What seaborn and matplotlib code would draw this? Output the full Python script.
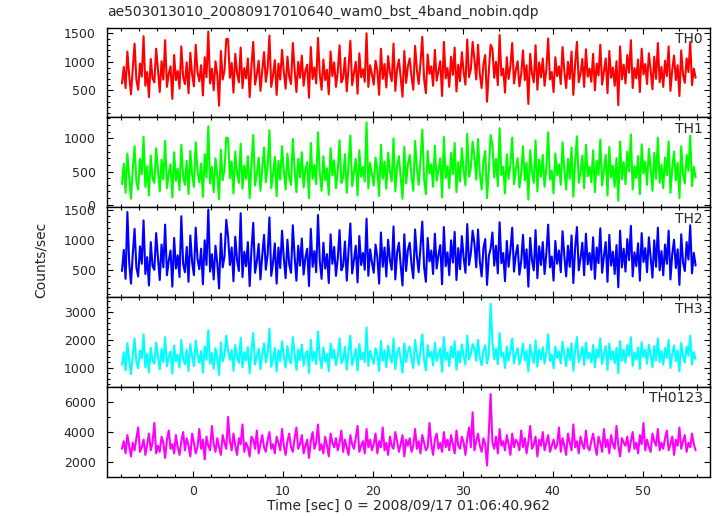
import matplotlib
matplotlib.use('Agg')
import matplotlib.pyplot as plt
from matplotlib.ticker import MultipleLocator
import seaborn as sns
import numpy as np
import pandas as pd

# light curve, 0.2 s bins starting at -8 s
t_start = -8.0
bin_sec = 0.2

th0 = [620, 910, 540, 1180, 760, 430, 880, 1320, 690, 510, 970, 740, 1450, 580, 820, 380, 1050, 710, 640, 1230,
       860, 470, 1010, 690, 1380, 560, 790, 920, 350, 1120, 680, 840, 530, 1270, 740, 610, 990, 450, 1160, 780,
       570, 1300, 820, 660, 940, 410, 1080, 730, 1530, 620, 880, 500, 1010, 770, 230, 1190, 690, 850, 1400, 1400,
       720, 980, 460, 1140, 800, 640, 1250, 540, 890, 710, 1060, 380, 930, 1350, 600, 780, 1020, 490, 850, 1170,
       650, 890, 1460, 560, 760, 1030, 420, 970, 690, 1210, 820, 530, 1090, 740, 610, 1330, 860, 470, 1000, 720,
       1110, 580, 840, 950, 370, 1260, 700, 900, 620, 1420, 790, 510, 1040, 680, 860, 430, 1180, 750, 990, 560,
       830, 1290, 640, 720, 1070, 480, 910, 1370, 590, 800, 1000, 440, 1150, 730, 870, 650, 1500, 560, 940, 780,
       600, 1020, 850, 420, 1230, 700, 960, 550, 1100, 810, 660, 1320, 490, 880, 1040, 720, 390, 1190, 630, 920,
       1060, 740, 510, 1280, 860, 610, 980, 1440, 700, 450, 1130, 790, 920, 580, 1210, 670, 840, 1010, 400, 1350,
       710, 890, 560, 1090, 770, 1250, 480, 950, 660, 1170, 820, 600, 1390, 730, 870, 1350, 1040, 690, 1300, 780,
       540, 960, 1120, 300, 830, 1300, 1230, 720, 1000, 590, 1470, 760, 880, 460, 1080, 700, 920, 1330, 620, 850,
       1010, 570, 780, 1200, 680, 940, 260, 1140, 800, 640, 1290, 510, 990, 730, 1060, 580, 870, 1410, 690, 820,
       470, 1080, 750, 920, 610, 1260, 830, 540, 1000, 700, 1180, 420, 960, 1350, 640, 790, 1050, 560, 1220, 740,
       880, 650, 1140, 500, 970, 760, 1300, 600, 830, 1060, 450, 1190, 720, 900, 580, 1010, 240, 1270, 690, 950,
       620, 1120, 810, 1380, 540, 890, 710, 1040, 470, 1230, 780, 960, 610, 1150, 850, 520, 1090, 700, 1330, 640,
       910, 560, 1020, 750, 1270, 490, 860, 1110, 680, 940, 400, 1200, 770, 630, 1060, 820, 1350, 590, 880, 720]

th1 = [310, 620, 180, 770, 420, 90, 540, 880, 350, 230, 690, 460, 1020, 270, 580, 140, 740, 400, 330, 850,
       520, 200, 680, 380, 960, 250, 470, 610, 110, 790, 360, 540, 220, 900, 430, 300, 660, 160, 810, 450,
       270, 940, 500, 340, 620, 120, 760, 410, 1180, 320, 570, 190, 700, 440, 80, 830, 370, 530, 1010, 1000,
       400, 650, 170, 800, 480, 330, 920, 240, 590, 390, 730, 100, 620, 1050, 290, 460, 710, 210, 540, 860,
       340, 580, 1120, 250, 450, 720, 130, 660, 380, 880, 510, 230, 770, 420, 300, 990, 550, 190, 690, 410,
       790, 260, 520, 640, 100, 930, 390, 600, 310, 1090, 470, 210, 730, 370, 550, 150, 850, 440, 670, 250,
       510, 970, 330, 410, 760, 180, 610, 1040, 280, 490, 690, 140, 820, 420, 570, 350, 1240, 250, 630, 460,
       290, 710, 540, 130, 900, 390, 650, 240, 780, 500, 350, 1000, 200, 580, 730, 410, 90, 870, 320, 610,
       750, 430, 210, 960, 550, 300, 670, 1130, 390, 160, 810, 470, 610, 270, 890, 360, 530, 700, 110, 1020,
       400, 580, 250, 780, 460, 930, 190, 640, 350, 850, 510, 290, 1070, 420, 560, 950, 730, 380, 990, 470,
       230, 650, 810, 100, 520, 1050, 910, 410, 690, 280, 1150, 450, 570, 170, 760, 390, 610, 1010, 310, 540,
       700, 260, 470, 880, 370, 630, 80, 820, 490, 330, 970, 200, 680, 420, 750, 270, 560, 1090, 380, 510,
       170, 770, 440, 610, 300, 940, 520, 230, 690, 390, 860, 120, 650, 1030, 330, 480, 740, 250, 900, 430,
       570, 340, 820, 190, 660, 450, 980, 290, 520, 750, 140, 870, 410, 590, 270, 700, 60, 950, 380, 640,
       310, 800, 500, 1060, 230, 580, 400, 730, 160, 910, 470, 650, 300, 840, 540, 210, 780, 390, 1010, 330,
       600, 250, 710, 440, 950, 180, 550, 800, 370, 630, 100, 880, 460, 320, 750, 510, 1040, 280, 570, 410]

th2 = [480, 830, 350, 1460, 620, 270, 760, 1180, 540, 390, 890, 600, 1320, 430, 710, 240, 960, 560, 500, 1110,
       700, 330, 920, 540, 1250, 410, 650, 820, 220, 1030, 520, 740, 380, 1390, 600, 460, 880, 300, 1070, 630,
       410, 1200, 680, 510, 850, 260, 990, 580, 1500, 470, 760, 340, 900, 610, 190, 1100, 540, 720, 1330, 1050,
       580, 870, 310, 1050, 660, 480, 1440, 380, 800, 560, 960, 230, 830, 1280, 450, 640, 930, 340, 740, 1080,
       500, 760, 1370, 400, 620, 940, 270, 870, 530, 1150, 690, 360, 1000, 590, 450, 1240, 720, 320, 900, 570,
       1020, 420, 700, 850, 230, 1180, 550, 810, 460, 1410, 640, 350, 950, 520, 760, 280, 1090, 600, 880, 400,
       690, 1160, 490, 570, 970, 320, 820, 1270, 440, 660, 900, 290, 1060, 580, 780, 500, 1350, 400, 840, 620,
       450, 920, 710, 270, 1120, 550, 870, 390, 1000, 660, 500, 1220, 340, 790, 950, 570, 240, 1090, 480, 830,
       950, 590, 360, 1170, 720, 460, 880, 1300, 550, 300, 1030, 640, 820, 430, 1100, 520, 750, 910, 260, 1210,
       560, 790, 410, 990, 620, 1130, 330, 860, 510, 1060, 700, 450, 1260, 580, 770, 1150, 940, 540, 1170, 640,
       390, 860, 1010, 250, 730, 850, 1120, 570, 900, 440, 1290, 610, 780, 310, 980, 550, 820, 1200, 470, 750,
       910, 420, 640, 1080, 530, 840, 220, 1030, 660, 490, 1160, 360, 890, 580, 960, 430, 770, 1250, 540, 720,
       320, 980, 600, 820, 460, 1140, 730, 390, 900, 550, 1070, 280, 860, 1210, 490, 690, 950, 410, 1100, 590,
       780, 500, 1040, 350, 870, 610, 1190, 450, 730, 960, 300, 1080, 570, 800, 430, 910, 210, 1150, 540, 850,
       470, 1010, 660, 1230, 390, 790, 560, 940, 320, 1110, 630, 860, 460, 1040, 700, 370, 990, 550, 1200, 490,
       810, 410, 920, 600, 1150, 340, 760, 1000, 530, 840, 250, 1090, 620, 480, 960, 670, 1240, 440, 780, 570]

th3 = [1100, 1560, 900, 1880, 1300, 760, 1450, 2050, 1200, 980, 1620, 1340, 2200, 1010, 1500, 830, 1720, 1250, 1150, 1900,
       1420, 940, 1680, 1200, 2100, 1050, 1380, 1590, 790, 1800, 1230, 1470, 1000, 2000, 1310, 1120, 1650, 880, 1850, 1390,
       1060, 1980, 1480, 1180, 1600, 820, 1760, 1290, 2350, 1140, 1530, 960, 1700, 1350, 740, 1910, 1220, 1440, 2150, 1600,
       1280, 1640, 890, 1820, 1400, 1170, 2080, 1010, 1560, 1260, 1740, 800, 1620, 2250, 1110, 1380, 1690, 950, 1470, 1870,
       1190, 1510, 2400, 1030, 1330, 1710, 860, 1630, 1240, 1950, 1420, 1000, 1780, 1310, 1150, 2100, 1490, 920, 1660, 1270,
       1830, 1070, 1450, 1600, 810, 2000, 1260, 1570, 1130, 2300, 1390, 980, 1730, 1220, 1500, 870, 1870, 1330, 1640, 1090,
       1400, 2050, 1160, 1290, 1750, 930, 1580, 2150, 1090, 1370, 1680, 900, 1850, 1300, 1530, 1200, 2450, 1060, 1610, 1350,
       1140, 1700, 1480, 880, 1960, 1250, 1620, 1020, 1790, 1410, 1180, 2050, 950, 1520, 1720, 1300, 820, 1880, 1210, 1590,
       1760, 1310, 990, 2000, 1500, 1100, 1640, 2200, 1270, 900, 1810, 1380, 1570, 1080, 1900, 1240, 1470, 1690, 850, 2100,
       1280, 1550, 1050, 1770, 1360, 1950, 930, 1600, 1190, 1840, 1420, 1110, 2150, 1290, 1510, 1850, 1700, 1250, 2000, 1370,
       1090, 1620, 1800, 1150, 1450, 3300, 1920, 1300, 1680, 1130, 2250, 1390, 1540, 990, 1760, 1260, 1590, 2050, 1160, 1480,
       1710, 1120, 1400, 1870, 1270, 1600, 860, 1820, 1430, 1170, 1990, 1040, 1650, 1310, 1740, 1150, 1530, 2200, 1240, 1460,
       980, 1760, 1350, 1590, 1150, 1940, 1480, 1060, 1700, 1280, 1880, 890, 1620, 2100, 1200, 1420, 1750, 1100, 1900, 1330,
       1530, 1190, 1820, 1010, 1660, 1370, 2050, 1140, 1490, 1780, 920, 1870, 1290, 1600, 1160, 1720, 800, 1960, 1250, 1640,
       1170, 1810, 1420, 2100, 1060, 1550, 1300, 1730, 960, 1920, 1380, 1650, 1140, 1830, 1470, 1020, 1780, 1260, 2050, 1200,
       1600, 1100, 1710, 1350, 2000, 990, 1500, 1800, 1240, 1620, 870, 1900, 1400, 1180, 1760, 1430, 2150, 1110, 1560, 1320]

th0123 = [2900, 3400, 2600, 3800, 3100, 2400, 3300, 2800, 3600, 4300, 2700, 3000, 3500, 2500, 3200, 3900, 2800, 3300, 4600, 2600,
          3100, 2700, 3700, 3300, 2300, 3500, 4100, 2900, 3200, 2600, 3800, 3000, 2500, 3400, 4000, 2800, 3600, 3100, 2400, 3900,
          3300, 2600, 3000, 4200, 2900, 3500, 2200, 3700, 3100, 2800, 4400, 3200, 2700, 3600, 3000, 2500, 3800, 3300, 2900, 5000,
          3400, 2800, 3900, 3100, 2500, 3600, 3200, 4500, 2700, 3300, 3000, 2400, 3700, 3500, 2900, 4100, 2600, 3200, 3800, 3000,
          2700, 3500, 4000, 2900, 3200, 2600, 3700, 3300, 2800, 4200, 3100, 2500, 3400, 3900, 3000, 2700, 3600, 4300, 2900, 3200,
          3800, 2600, 3100, 3500, 2300, 3400, 4000, 2900, 3300, 4500, 2800, 3200, 2600, 3700, 3100, 2400, 3900, 3300, 3000, 3600,
          2800, 3300, 4100, 2700, 3500, 3000, 2500, 3800, 3200, 2900, 3600, 4400, 2700, 3100, 3400, 2600, 4200, 3000, 3500, 2800,
          3200, 3900, 2600, 3400, 3000, 4300, 2800, 3300, 2500, 3700, 3100, 2900, 4000, 3400, 2700, 3200, 3800, 2400, 3500, 3100,
          3600, 2700, 3100, 4200, 2900, 3400, 2600, 3800, 3300, 2800, 3000, 4600, 3200, 2500, 3500, 3900, 2900, 3300, 2700, 4000,
          3000, 3500, 2800, 3800, 3200, 2600, 4100, 3100, 2900, 3700, 3300, 2500, 3600, 4300, 3000, 5300, 2800, 3400, 3900, 3100,
          2700, 3600, 3200, 1800, 4000, 6500, 3300, 2900, 3700, 2600, 4200, 3100, 3400, 2800, 3800, 3200, 2500, 3900, 3000, 3500,
          3300, 2800, 4100, 3000, 3600, 2600, 3400, 4400, 2900, 3200, 3700, 2400, 3500, 3100, 4000, 2800, 3300, 3800, 2700, 3100,
          3500, 2900, 3200, 4300, 2700, 3600, 3100, 2500, 3900, 3300, 2800, 4500, 3000, 3400, 2600, 3700, 3200, 2900, 4100, 3000,
          2800, 3400, 3900, 3100, 2500, 3700, 3300, 2700, 4200, 3000, 3500, 2600, 3800, 3200, 2900, 4400, 3100, 2400, 3600, 3300,
          3100, 3700, 2700, 3400, 4000, 2900, 3300, 2600, 3800, 3200, 4600, 2800, 3500, 3000, 2700, 3900, 3400, 3100, 4200, 2800,
          3300, 2900, 3600, 4100, 2800, 3200, 3700, 2500, 3500, 3100, 4300, 2900, 3400, 3800, 2700, 3300, 3000, 3900, 3200, 2800]

bands = ['TH0', 'TH1', 'TH2', 'TH3', 'TH0123']
colors = ['#ff0000', '#00ff00', '#0000ff', '#00ffff', '#ff00ff']
ylims = [(26, 1602), (-36, 1315), (48, 1540), (309, 3545), (1065, 6974)]
major = [500, 500, 500, 1000, 2000]
minor = [100, 100, 100, 200, 1000]

n = len(th0)
t = t_start + bin_sec * (np.arange(n) + 0.5)
rates = {'TH0': th0, 'TH1': th1, 'TH2': th2, 'TH3': th3, 'TH0123': th0123}

df = pd.concat([pd.DataFrame({'t': t, 'rate': rates[b], 'band': b}) for b in bands], ignore_index=True)

sns.set_style('ticks')
plt.rcParams['font.family'] = ['DejaVu Sans']
plt.rcParams['path.simplify'] = False

fig, axes = plt.subplots(5, 1, sharex=True, figsize=(7.17, 5.16), dpi=100)
fig.subplots_adjust(left=106.7/717, right=710/717, top=1-27.5/516, bottom=1-476.7/516, hspace=0)

for ax, b, c, yl, mj, mn in zip(axes, bands, colors, ylims, major, minor):
    sub = df[df.band == b]
    sns.lineplot(x=sub['t'].to_numpy(), y=sub['rate'].to_numpy(dtype=float), color=c,
                 linewidth=1.5, estimator=None, errorbar=None, ax=ax)
    ax.set_ylim(yl)
    ax.set_xlim(-9.6, 57.5)
    ax.yaxis.set_major_locator(MultipleLocator(mj))
    ax.yaxis.set_minor_locator(MultipleLocator(mn))
    ax.xaxis.set_major_locator(MultipleLocator(10))
    ax.xaxis.set_minor_locator(MultipleLocator(2))
    ax.tick_params(which='both', direction='in', top=True, right=True, width=0.8, color='black')
    ax.tick_params(which='major', length=4.5)
    ax.tick_params(which='minor', length=2.5)
    ax.tick_params(axis='y', labelsize=9, pad=8)
    ax.tick_params(axis='x', labelsize=9, pad=6)
    for s in ax.spines.values():
        s.set_linewidth(1.0)
        s.set_color('black')
    ax.set_xlabel('')
    ax.set_ylabel('')
    ax.text(0.988, 0.95, b, transform=ax.transAxes, ha='right', va='top', fontsize=10)

fig.text(107/717, 1-12/516, 'ae503013010_20080917010640_wam0_bst_4band_nobin.qdp',
         ha='left', va='center', fontsize=10)
fig.text(408/717, 1-506/516, 'Time [sec] 0 = 2008/09/17 01:06:40.962', ha='center', va='center', fontsize=10)
fig.text(41/717, 1-260/516, 'Counts/sec', rotation=90, ha='center', va='center', fontsize=10)

fig.savefig('out.png', dpi=100)
